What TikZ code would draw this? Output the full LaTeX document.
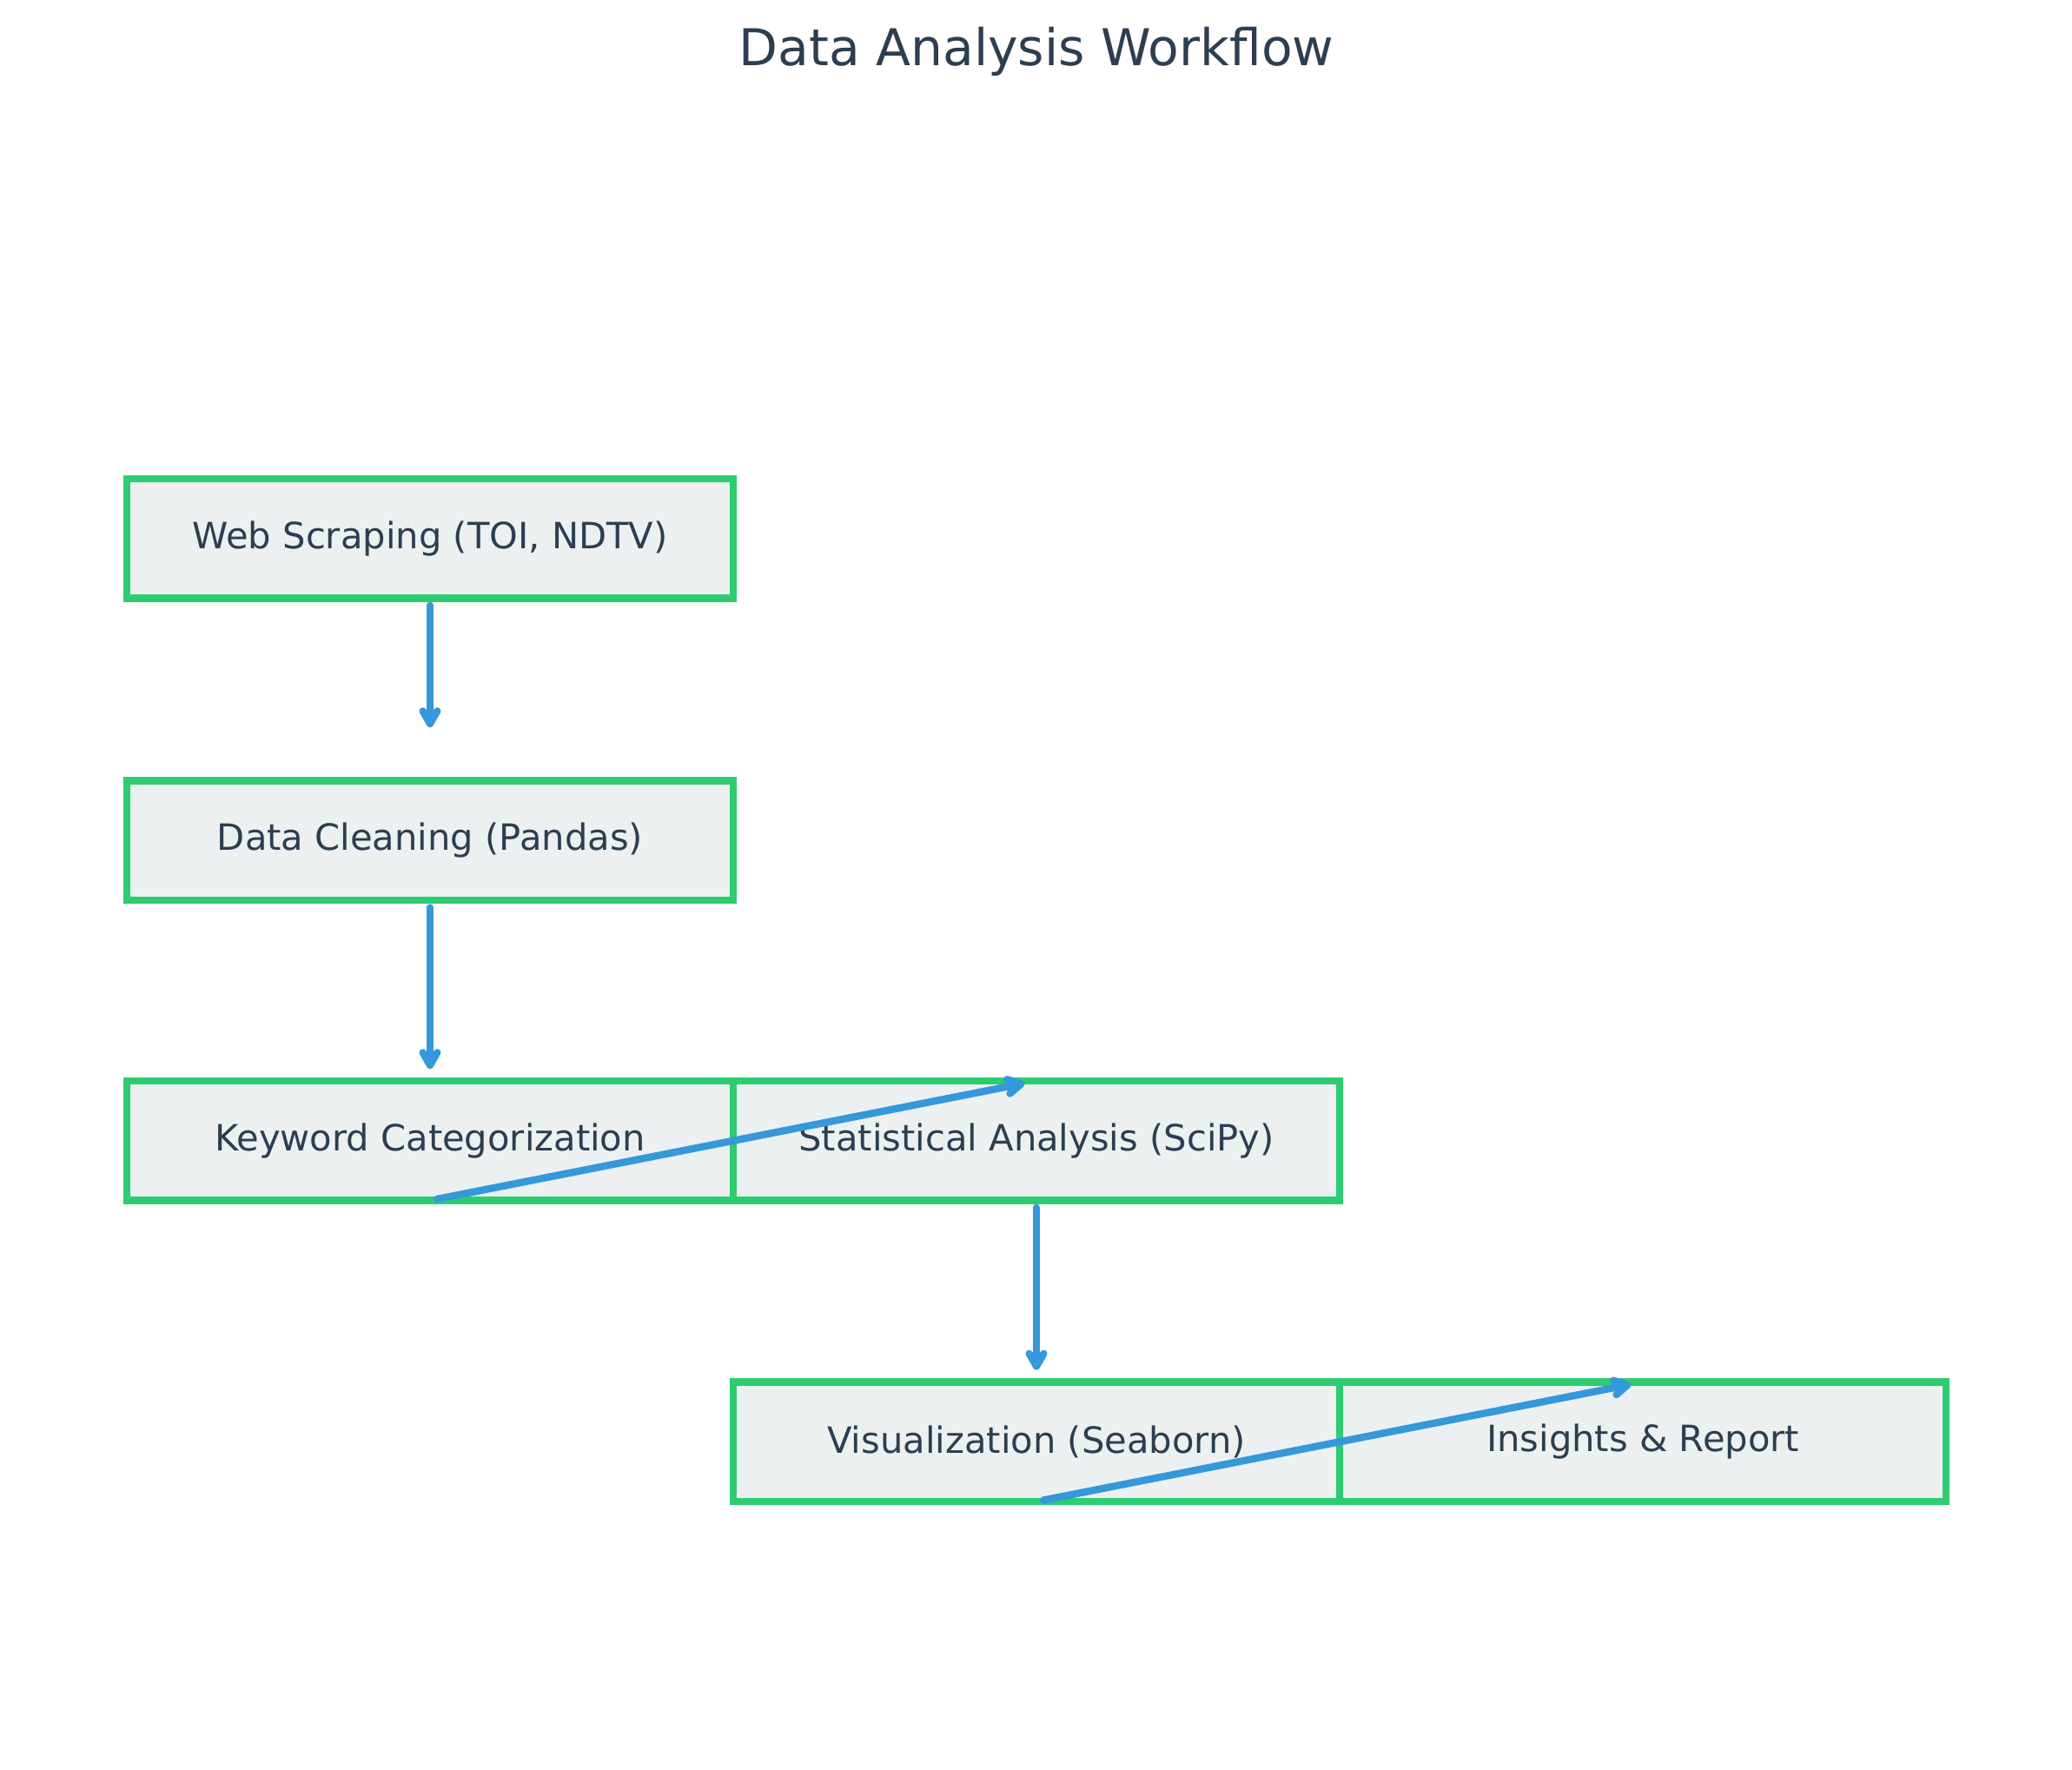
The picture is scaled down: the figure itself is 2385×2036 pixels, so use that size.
\documentclass[tikz,border=0pt]{standalone}
\usepackage{fontspec}
\setmainfont{DejaVu Sans}
\usetikzlibrary{arrows.meta}
\definecolor{boxgreen}{HTML}{2ECC71}
\definecolor{boxfill}{HTML}{ECF0F1}
\definecolor{flowblue}{HTML}{3498DB}
\definecolor{textdark}{HTML}{2C3E50}
\begin{document}
\begin{tikzpicture}[x=0.24pt,y=-0.24pt,
  stepbox/.style={draw=boxgreen, fill=boxfill, line width=2pt,
    minimum width=167.52pt, minimum height=33pt, inner sep=0pt, outer sep=0pt,
    text=textdark, font=\fontsize{10}{12}\selectfont},
  flow/.style={draw=flowblue, line width=2pt, line cap=round, line join=round,
    -{Straight Barb[length=3.5pt,width=4pt,round]}, shorten <=2pt},
  titletext/.style={anchor=base, text=textdark, font=\fontsize{14}{17}\selectfont}]
\fill[white] (0,0) rectangle (2385,2036);
\useasboundingbox (0,0) rectangle (2385,2036);

\node[titletext] (title) at (1193,75) {Data Analysis Workflow};

\node[stepbox] (b1) at (495,619.75) {Web Scraping (TOI, NDTV)};
\node[stepbox] (b2) at (495,967.25) {Data Cleaning (Pandas)};
\node[stepbox] (b3) at (495,1312.75) {Keyword Categorization};
\node[stepbox] (b4) at (1193,1312.75) {Statistical Analysis (SciPy)};
\node[stepbox] (b5) at (1193,1659.25) {Visualization (Seaborn)};
\node[stepbox] (b6) at (1891,1659.25) {Insights \& Report};

\draw[flow, shorten >=14.76pt] (b1.south) -- (b2.north);
\draw[flow, shorten >=3.36pt] (b2.south) -- (b3.north);
\draw[flow, shorten >=3.36pt] (b3.south) -- (b4.north);
\draw[flow, shorten >=3.36pt] (b4.south) -- (b5.north);
\draw[flow, shorten >=3.36pt] (b5.south) -- (b6.north);
\end{tikzpicture}
\end{document}
